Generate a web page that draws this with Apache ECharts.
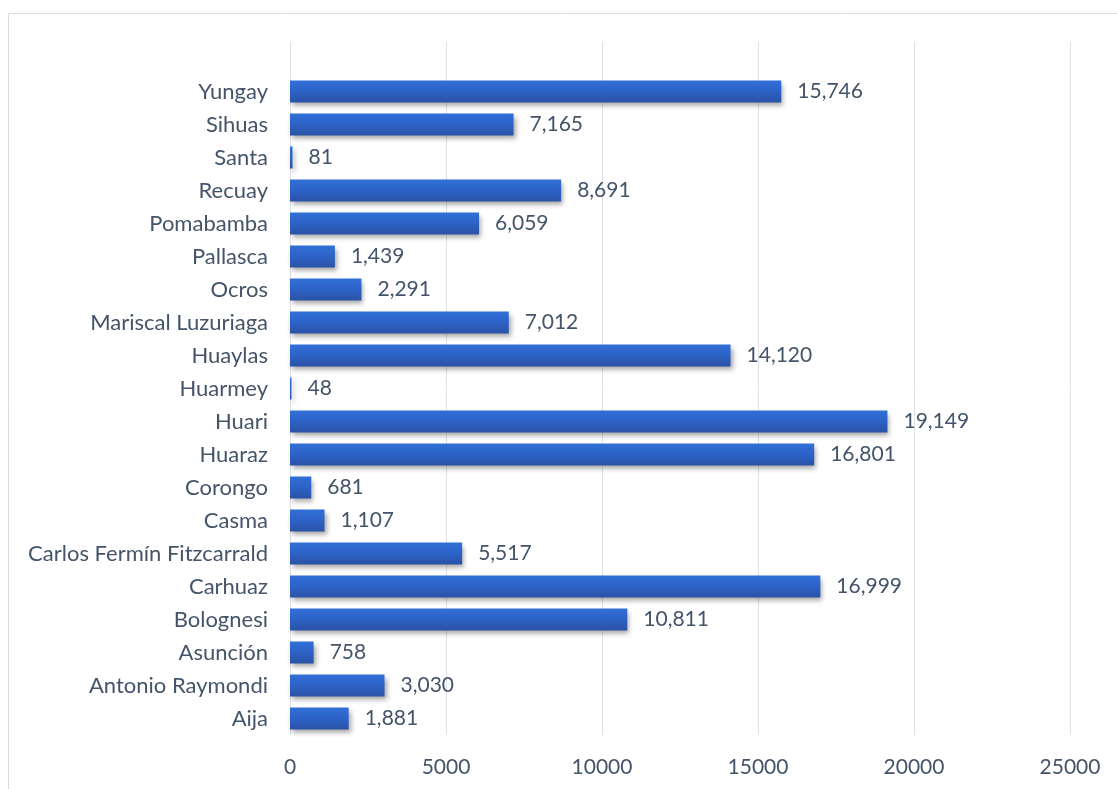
<!DOCTYPE html>
<html><head><meta charset="utf-8">
<script src="https://cdn.jsdelivr.net/npm/echarts@6/dist/echarts.min.js"></script>
<style>html,body{margin:0;padding:0;background:#fff;}#c{width:1117px;height:789px;}</style>
</head><body><div id="c"></div>
<script>
// Categories bottom-to-top (ECharts category y-axis starts at bottom); last '' is an empty top slot
const provinces = ['Aija','Antonio Raymondi','Asunción','Bolognesi','Carhuaz','Carlos Fermín Fitzcarrald','Casma','Corongo','Huaraz','Huari','Huarmey','Huaylas','Mariscal Luzuriaga','Ocros','Pallasca','Pomabamba','Recuay','Santa','Sihuas','Yungay',''];
const values = [1881,3030,758,10811,16999,5517,1107,681,16801,19149,48,14120,7012,2291,1439,6059,8691,81,7165,15746,null];
const xTicks = [0,5000,10000,15000,20000,25000];

const FONT = 'Lato';
const TXT = '#44546A';
const chart = echarts.init(document.getElementById('c'));
chart.setOption({
  animation:false,
  graphic:[{type:'rect',shape:{x:8.5,y:13.5,width:1200,height:900},style:{fill:'none',stroke:'#D9DDE3',lineWidth:1},silent:true,z:-1}],
  grid:{left:290,right:1117-1070,top:42,bottom:789-735,containLabel:false},
  xAxis:{type:'value',min:xTicks[0],max:xTicks[xTicks.length-1],interval:5000,
    axisLine:{show:false},axisTick:{show:false},
    splitLine:{show:true,lineStyle:{color:'#DDE1E8',width:1}},
    axisLabel:{color:TXT,fontFamily:FONT,fontSize:21,margin:22,formatter:v=>String(v)}},
  yAxis:{type:'category',data:provinces,
    axisLine:{show:false},axisTick:{show:false},
    axisLabel:{color:TXT,fontFamily:FONT,fontSize:22,margin:22}},
  series:[{type:'bar',data:values,barWidth:22,
    itemStyle:{color:new echarts.graphic.LinearGradient(0,0,0,1,[{offset:0,color:'#3170D8'},{offset:0.5,color:'#2D62C6'},{offset:1,color:'#2A52A6'}]),
      shadowColor:'rgba(0,0,0,0.35)',shadowBlur:5,shadowOffsetX:2,shadowOffsetY:3},
    label:{show:true,position:'right',distance:16,color:TXT,fontFamily:FONT,fontSize:21,
      formatter:p=>p.value==null?'':p.value.toLocaleString('en-US')}}]
});
</script></body></html>
